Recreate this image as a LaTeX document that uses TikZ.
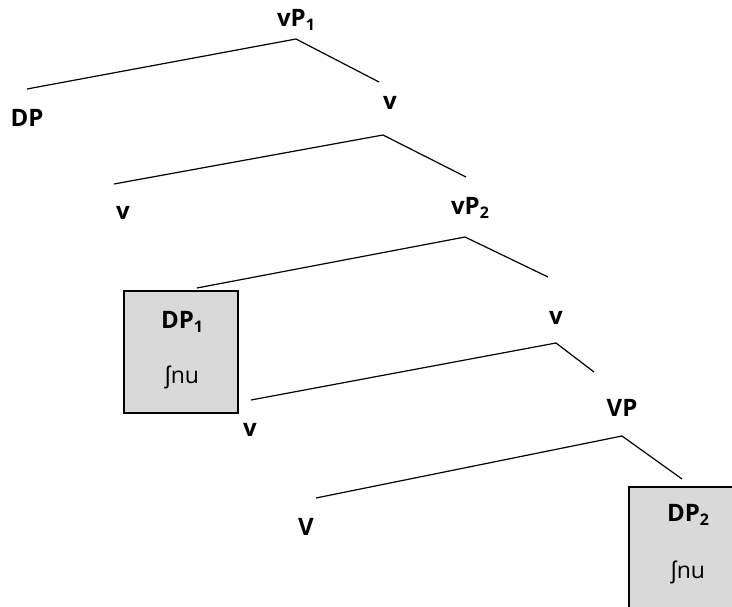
\documentclass[tikz,border=0pt]{standalone}
\usepackage{fontspec}
\setmainfont{Open Sans}
\newfontfamily\ipafont{Noto Sans}
\newcommand{\subn}[1]{\raisebox{-0.3ex}{\fontsize{16}{16}\selectfont #1}}

\begin{document}
\begin{tikzpicture}[x=1pt,y=1pt]
\tikzset{cat/.style={font=\fontsize{24}{28}\selectfont\bfseries, inner sep=0pt},
word/.style={font=\fontsize{23}{27}\selectfont, inner sep=0pt},
branch/.style={black, line width=1.2pt},
leafbox/.style={draw=black, line width=2.2pt, fill=black!15, inner sep=0pt}}
\useasboundingbox (0,0) rectangle (732,-607);
\clip (0,0) rectangle (732,-607);
% shaded boxes
\node [leafbox, minimum width=114, minimum height=122] (box1) at (181,-352) {};
\node [leafbox, minimum width=114, minimum height=122] (box2) at (686,-548) {};
% labels
\node [cat] (vP1) at (296,-20) {vP\subn{1}};
\node [cat] (DP) at (27,-118) {DP};
\node [cat] (v1) at (390,-103) {v};
\node [cat] (v2) at (123,-213) {v};
\node [cat] (vP2) at (470,-208) {vP\subn{2}};
\node [cat] (DP1) at (182,-322) {DP\subn{1}};
\node [word] (nu1) at (182,-377) {{\ipafont ʃ}nu};
\node [cat] (v3) at (556,-318) {v};
\node [cat] (v4) at (250,-430) {v};
\node [cat] (VP) at (622,-408) {VP};
\node [cat] (V) at (306,-527) {V};
\node [cat] (DP2) at (688,-515) {DP\subn{2}};
\node [word] (nu2) at (688,-572) {{\ipafont ʃ}nu};
% branch ends
\coordinate (vP1-top) at (296,-39);
\coordinate (DP-end) at (27,-89);
\coordinate (v1-end) at (379,-82);
\coordinate (v1-top) at (383,-135);
\coordinate (v2-end) at (114,-184);
\coordinate (vP2-end) at (466,-177);
\coordinate (vP2-top) at (465,-237);
\coordinate (DP1-end) at (197,-288);
\coordinate (v3-end) at (548,-277);
\coordinate (v3-top) at (556,-343);
\coordinate (v4-end) at (251,-400);
\coordinate (VP-end) at (594,-372);
\coordinate (VP-top) at (622,-436);
\coordinate (V-end) at (316,-498);
\coordinate (DP2-end) at (682,-479);
% branches
\draw [branch] (DP-end) -- (vP1-top) -- (v1-end);
\draw [branch] (v2-end) -- (v1-top) -- (vP2-end);
\draw [branch] (DP1-end) -- (vP2-top) -- (v3-end);
\draw [branch] (v4-end) -- (v3-top) -- (VP-end);
\draw [branch] (V-end) -- (VP-top) -- (DP2-end);
\end{tikzpicture}
\end{document}
